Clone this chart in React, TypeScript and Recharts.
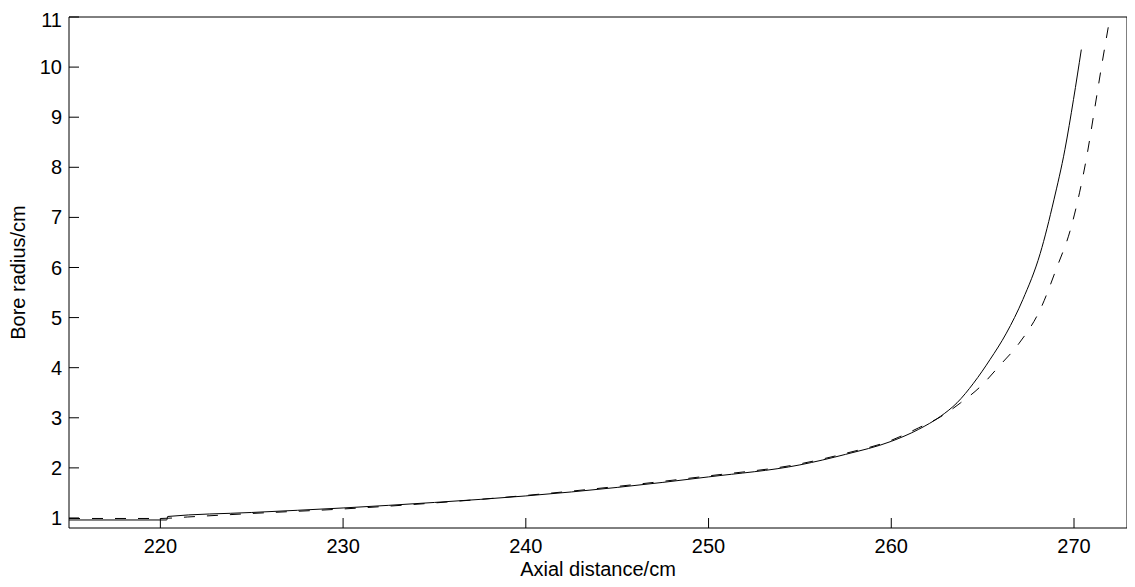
import { LineChart, Line, XAxis, YAxis } from "recharts";

// solid profile (axial distance in cm, bore radius in cm)
const solidX = [215, 220.35, 220.4, 225, 230, 235, 240, 245, 250, 255, 257.5, 260, 261.5, 262.7, 263.6, 264.5, 265.4, 266.3, 267.2, 268.15, 268.9, 269.5, 269.97, 270.4];
const solidR = [0.96, 0.96, 1.03, 1.11, 1.2, 1.31, 1.44, 1.61, 1.82, 2.06, 2.27, 2.53, 2.77, 3.03, 3.3, 3.69, 4.16, 4.69, 5.36, 6.28, 7.35, 8.35, 9.35, 10.35];

// dashed profile
const dashedX = [215, 220, 221.5, 225, 230, 235, 240, 245, 250, 255, 257.5, 260, 261.5, 262.7, 263.8, 264.9, 265.9, 267.0, 268.15, 269.06, 269.8, 270.3, 270.7, 271.1, 271.5, 271.9];
const dashedR = [0.99, 0.99, 1.02, 1.09, 1.18, 1.3, 1.45, 1.63, 1.84, 2.08, 2.29, 2.55, 2.8, 3.02, 3.3, 3.63, 4.03, 4.49, 5.16, 6.0, 6.75, 7.49, 8.22, 9.1, 10.0, 10.85];

const xTicks = [220, 230, 240, 250, 260, 270];
const yTicks = [1, 2, 3, 4, 5, 6, 7, 8, 9, 10, 11];

const solid = solidX.map((x, i) => ({ x, r: solidR[i] }));
const dashed = dashedX.map((x, i) => ({ x, r: dashedR[i] }));

const font = { fontFamily: "'Liberation Sans', Arial, sans-serif", fontSize: 20, fill: "#000" };

export default function App() {
  return (
    <LineChart width={1127} height={572} margin={{ top: 8, right: 7, left: 0, bottom: 0 }}>
      <XAxis
        dataKey="x"
        type="number"
        domain={[215, 272.9]}
        ticks={xTicks}
        allowDataOverflow
        height={52}
        tickSize={-10}
        tickMargin={21}
        tick={font}
        stroke="#000"
        label={{ value: "Axial distance/cm", position: "insideBottom", offset: 4, style: font }}
      />
      <XAxis
        xAxisId="top"
        orientation="top"
        dataKey="x"
        type="number"
        domain={[215, 272.9]}
        ticks={xTicks}
        allowDataOverflow
        height={1}
        tickSize={-10}
        tick={false}
        stroke="#000"
      />
      <YAxis
        type="number"
        domain={[0.8, 11]}
        ticks={yTicks}
        allowDataOverflow
        width={61}
        tickSize={-10}
        tickMargin={17}
        tick={font}
        stroke="#000"
        label={{ value: "Bore radius/cm", angle: -90, position: "insideLeft", offset: 10, style: { ...font, textAnchor: "middle" } }}
      />
      <YAxis
        yAxisId="right"
        orientation="right"
        type="number"
        domain={[0.8, 11]}
        ticks={yTicks}
        allowDataOverflow
        width={1}
        tickSize={-10}
        tick={false}
        stroke="#000"
      />
      <Line data={solid} dataKey="r" type="monotone" stroke="#000" strokeWidth={1} dot={false} isAnimationActive={false} />
      <Line data={dashed} dataKey="r" type="monotone" stroke="#000" strokeWidth={1} strokeDasharray="11 12" dot={false} isAnimationActive={false} />
      {/* invisible copy so the top/right box axes get drawn */}
      <Line data={solid} dataKey="r" xAxisId="top" yAxisId="right" stroke="none" dot={false} activeDot={false} isAnimationActive={false} />
    </LineChart>
  );
}
